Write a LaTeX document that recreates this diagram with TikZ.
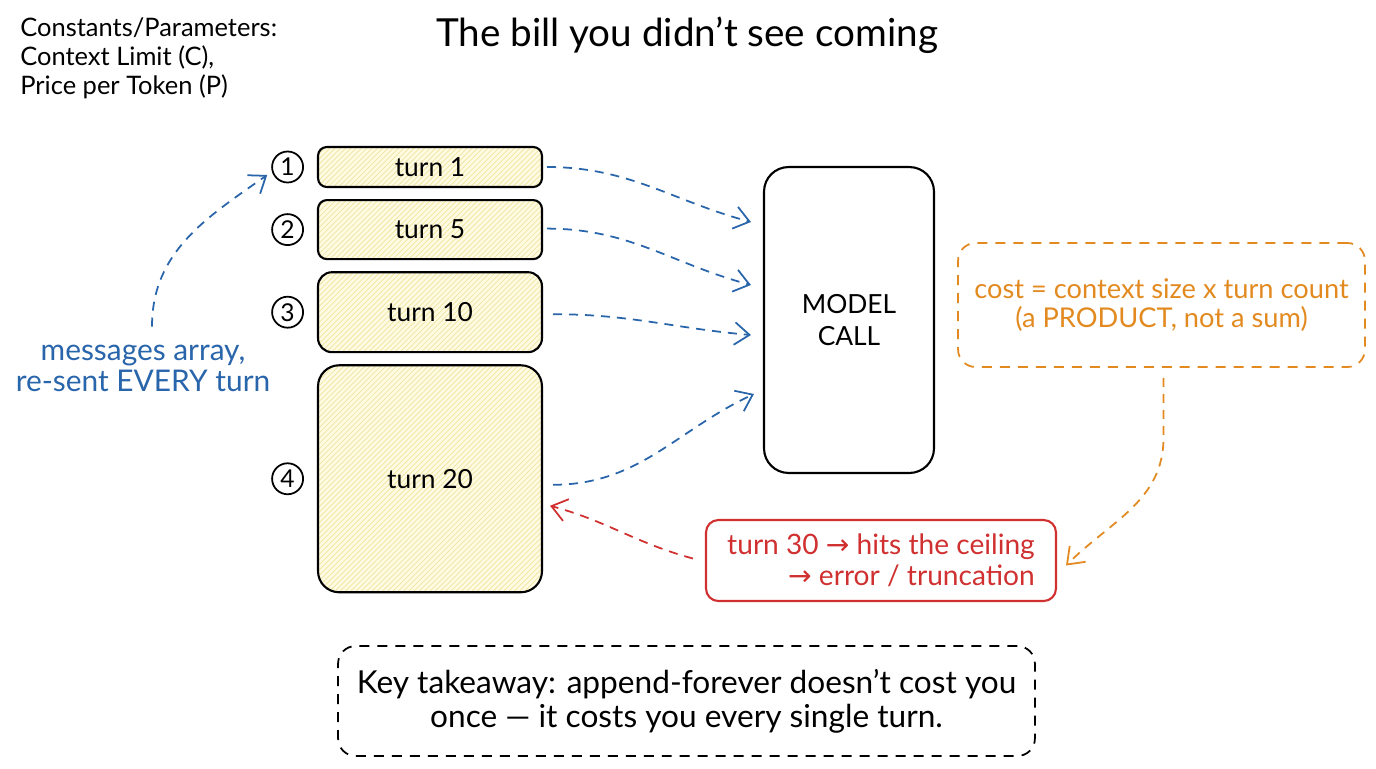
\documentclass[tikz,border=0pt]{standalone}
\usepackage{fontspec}
\setmainfont{Lato}
\newfontfamily\arrowfont{DejaVu Sans}
\usetikzlibrary{arrows.meta,positioning,calc,patterns}
\definecolor{inkblue}{RGB}{41,101,171}
\definecolor{inkorange}{RGB}{226,138,32}
\definecolor{inkred}{RGB}{208,48,48}
\definecolor{turnfill}{RGB}{255,251,226}
\definecolor{turnhatch}{RGB}{240,228,160}
\newcommand{\rarr}{{\arrowfont →}}

\begin{document}
\begin{tikzpicture}[x=0.02cm,y=-0.02cm,
  node distance=0.22cm,
  turnbox/.style={draw,line width=1.2pt,rounded corners=5pt,preaction={fill=turnfill},pattern=north east lines,pattern color=turnhatch,minimum width=4.48cm,font=\fontsize{15}{17}\selectfont},
  num/.style={circle,draw,line width=1pt,minimum size=0.62cm,inner sep=0pt,font=\fontsize{14}{14}\selectfont},
  modelbox/.style={draw,line width=1.2pt,rounded corners=14pt,minimum width=3.4cm,minimum height=6.12cm,align=center,font=\fontsize{15}{18}\selectfont},
  costbox/.style={draw=inkorange,line width=1pt,dash pattern=on 0.2cm off 0.16cm,rounded corners=10pt,minimum width=8.14cm,minimum height=2.48cm,align=center,text=inkorange,font=\fontsize{15.5}{16.5}\selectfont},
  ceilbox/.style={draw=inkred,line width=1.2pt,rounded corners=7pt,minimum width=7cm,minimum height=1.62cm,align=right,text=inkred,font=\fontsize{16}{17.5}\selectfont},
  keybox/.style={draw,line width=1pt,dash pattern=on 0.2cm off 0.16cm,rounded corners=10pt,minimum width=13.94cm,minimum height=2.2cm,align=center,font=\fontsize{18}{19.5}\selectfont},
  note/.style={align=center,text=inkblue,font=\fontsize{17}{17.6}\selectfont},
  flow/.style={-{Straight Barb[length=3mm,width=4.5mm]},line width=1pt,dash pattern=on 0.18cm off 0.14cm,inkblue},
  costarr/.style={flow,inkorange},
  errarr/.style={flow,inkred}]
  \useasboundingbox (0,0) rectangle (1376,768);
  % title and constants
  \node[font=\fontsize{22}{24}\selectfont] (title) at (687,35) {The bill you didn’t see coming};
  \node[anchor=north west,align=left,inner sep=0pt,font=\fontsize{14.5}{16.5}\selectfont] (consts) at (20,17) {Constants/Parameters:\\Context Limit (C),\\Price per Token (P)};
  % growing messages array
  \node[turnbox,minimum height=0.8cm] (t1) at (430,167) {turn 1};
  \node[turnbox,minimum height=1.18cm,below=of t1] (t5) {turn 5};
  \node[turnbox,minimum height=1.6cm,rounded corners=8pt,below=of t5] (t10) {turn 10};
  \node[turnbox,minimum height=4.54cm,rounded corners=12pt,below=of t10] (t20) {turn 20};
  \node[num,left=0.26cm of t1] (n1) {1};
  \node[num,left=0.26cm of t5] (n2) {2};
  \node[num,left=0.26cm of t10] (n3) {3};
  \node[num,left=0.26cm of t20] (n4) {4};
  \node[note] (msgs) at (143,368) {messages array,\\re-sent EVERY turn};
  % model and notes
  \node[modelbox] (model) at (849,320) {MODEL\\CALL};
  \node[costbox] (cost) at (1161.5,305) {cost = context size x turn count\\(a PRODUCT, not a sum)};
  \node[ceilbox] (ceil) at (881,560.5) {turn 30 \rarr{} hits the ceiling\\\rarr{} error / truncation};
  \node[keybox] (key) at (686.5,701) {Key takeaway: append-forever doesn’t cost you\\once — it costs you every single turn.};
  % connectors
  \draw[flow] ($(t1.east)+(4,0)$) to[out=0,in=165] ($(model.west)+(-12,-98)$);
  \draw[flow] ($(t5.east)+(4,-1)$) to[out=0,in=165] ($(model.west)+(-12,-35)$);
  \draw[flow] ($(t10.east)+(10,2)$) to[out=0,in=175] ($(model.west)+(-12,15)$);
  \draw[flow] ($(t20.east)+(10,6)$) to[out=0,in=205] ($(model.west)+(-9,74)$);
  \draw[flow] ($(msgs.north)+(9,-12)$) to[out=90,in=215] ($(n1.west)+(-4,8)$);
  \draw[costarr] ($(cost.south)+(2,10)$) -- ++(0,60) to[out=-90,in=45] ($(ceil.east)+(9,5)$);
  \draw[errarr] ($(ceil.west)+(-12,-2)$) to[out=165,in=-15] ($(t20.east)+(7,27)$);
\end{tikzpicture}
\end{document}
